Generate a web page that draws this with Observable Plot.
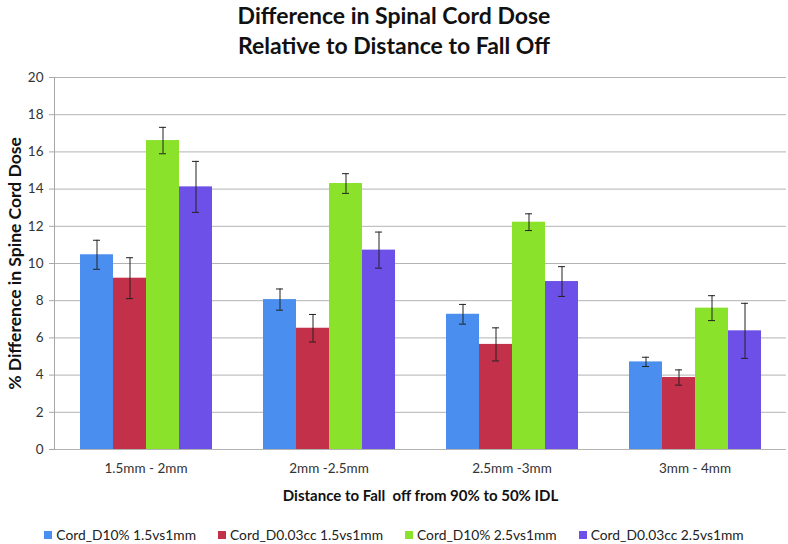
<!DOCTYPE html>
<html>
<head>
<meta charset="utf-8">
<script src="https://cdn.jsdelivr.net/npm/d3@7"></script>
<script src="https://cdn.jsdelivr.net/npm/@observablehq/plot@0.6"></script>
<style>
  body { margin: 0; background: #fff; font-family: Lato, "Open Sans", sans-serif; width: 788px; }
  #title { text-align: center; font-weight: bold; font-size: 23px; line-height: 30px; height: 62px; color: #111; }
  #legend { display: flex; justify-content: center; gap: 22px; font-size: 13.8px; color: #222; margin-top: 14px; }
  #legend .item { display: flex; align-items: center; gap: 4px; }
  #legend .sw { width: 8px; height: 8px; display: inline-block; }
  g[aria-label="y-axis label"] text, g[aria-label="fx-axis label"] text { font-weight: bold !important; fill: #111; }
  g[aria-label="y-axis label"] text { font-size: 17.5px !important; }
  g[aria-label="fx-axis label"] text { font-size: 15px !important; }
</style>
</head>
<body>
<div id="title">Difference in Spinal Cord Dose<br>Relative to Distance to Fall Off</div>
<div id="chart"></div>
<div id="legend"></div>
<script>
const categories = ["1.5mm - 2mm", "2mm -2.5mm", "2.5mm -3mm", "3mm - 4mm"];
const series = ["Cord_D10% 1.5vs1mm", "Cord_D0.03cc 1.5vs1mm", "Cord_D10% 2.5vs1mm", "Cord_D0.03cc 2.5vs1mm"];
const colors = ["#4a8ff0", "#c3304a", "#8be22a", "#6c50e8"];

const d10_15 = [10.47, 8.06, 7.27, 4.71];
const d003_15 = [9.21, 6.52, 5.65, 3.87];
const d10_25 = [16.61, 14.30, 12.22, 7.60];
const d003_25 = [14.12, 10.72, 9.03, 6.38];

const err_d10_15 = [0.78, 0.57, 0.53, 0.25];
const err_d003_15 = [1.10, 0.74, 0.89, 0.41];
const err_d10_25 = [0.71, 0.53, 0.45, 0.67];
const err_d003_25 = [1.37, 0.97, 0.80, 1.48];

const yTicks = [0, 2, 4, 6, 8, 10, 12, 14, 16, 18, 20];

const seriesValues = [d10_15, d003_15, d10_25, d003_25];
const seriesErrors = [err_d10_15, err_d003_15, err_d10_25, err_d003_25];
const rows = [];
categories.forEach((c, i) => {
  series.forEach((s, j) => {
    const v = seriesValues[j][i], e = seriesErrors[j][i];
    rows.push({category: c, series: s, value: v, lo: v - e, hi: v + e});
  });
});

const chart = Plot.plot({
  width: 788,
  height: 450,
  marginLeft: 54,
  marginRight: 2,
  marginTop: 15,
  marginBottom: 63,
  style: {fontFamily: "Lato, 'Open Sans', sans-serif", fontSize: "13.5px", color: "#333", background: "white"},
  fx: {domain: categories, padding: 0},
  x: {domain: series, paddingInner: 0, paddingOuter: 0.765, axis: null},
  y: {domain: [0, 20]},
  color: {domain: series, range: colors},
  marks: [
    Plot.gridY(yTicks, {stroke: "#b3b3b3", strokeOpacity: 1, strokeWidth: 1}),
    Plot.frame({anchor: "left", facetAnchor: "left", stroke: "#a8a8a8"}),
    Plot.barY(rows, {fx: "category", x: "series", y: "value", fill: "series"}),
    Plot.ruleX(rows, {fx: "category", x: "series", y1: "lo", y2: "hi", stroke: "#222", strokeWidth: 1}),
    Plot.tickY(rows, {fx: "category", x: "series", y: "lo", stroke: "#222", insetLeft: 13, insetRight: 13}),
    Plot.tickY(rows, {fx: "category", x: "series", y: "hi", stroke: "#222", insetLeft: 13, insetRight: 13}),
    Plot.axisY(yTicks, {tickSize: 5, tickPadding: 6, stroke: "#a8a8a8",
      label: "% Difference in Spine Cord Dose", labelAnchor: "center", labelArrow: "none", labelOffset: 46}),
    Plot.axisFx({anchor: "bottom", tickSize: 0, tickPadding: 14,
      label: "Distance to Fall  off from 90% to 50% IDL", labelAnchor: "center", labelArrow: "none", labelOffset: 51})
  ]
});
document.getElementById("chart").appendChild(chart);

const legend = document.getElementById("legend");
series.forEach((s, j) => {
  const item = document.createElement("div");
  item.className = "item";
  const sw = document.createElement("span");
  sw.className = "sw";
  sw.style.background = colors[j];
  const t = document.createElement("span");
  t.textContent = s;
  item.appendChild(sw);
  item.appendChild(t);
  legend.appendChild(item);
});
</script>
</body>
</html>
